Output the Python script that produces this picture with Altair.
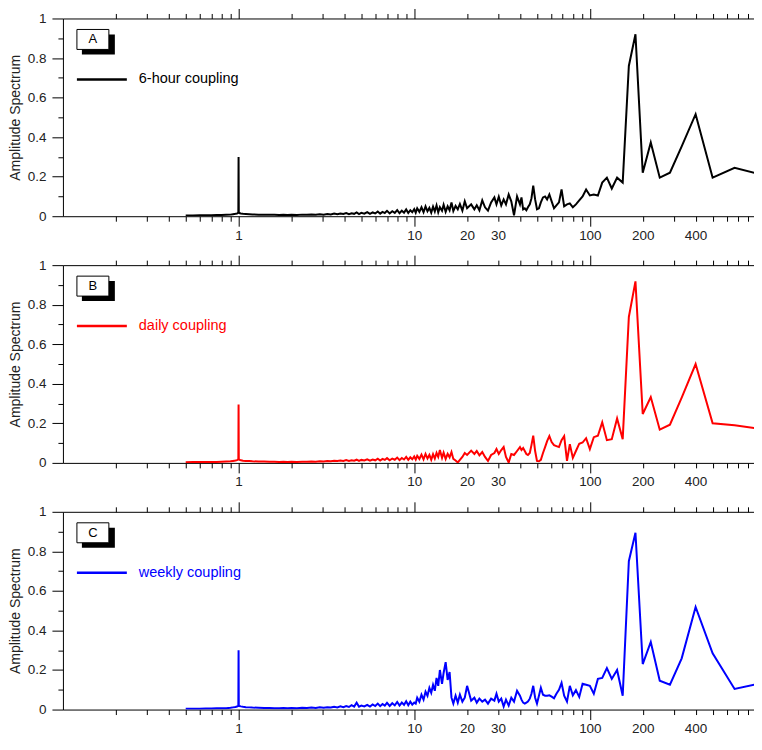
import altair as alt
import pandas as pd

# period (days) shared by the three spectra
PERIOD = [
    0.5, 0.55, 0.6, 0.65, 0.7, 0.75, 0.8, 0.85, 0.9, 0.93,
    0.96, 0.98, 0.99, 0.997, 1.0, 1.003, 1.01, 1.03, 1.06, 1.1,
    1.15, 1.2, 1.3, 1.4, 1.5, 1.6, 1.7, 1.8, 1.9, 2.0,
    2.15, 2.3, 2.45, 2.6, 2.75, 2.9, 3.05, 3.2, 3.35, 3.5,
    3.65, 3.8, 3.95, 4.1, 4.25, 4.4, 4.55, 4.7, 4.85, 5.0,
    5.2, 5.4, 5.6, 5.8, 6.0, 6.2, 6.4, 6.6, 6.8, 7.0,
    7.25, 7.5, 7.75, 8.0, 8.25, 8.5, 8.75, 9.0, 9.25, 9.5,
    9.75, 10.0, 10.2, 10.4, 10.7, 11.0, 11.3, 11.6, 11.9, 12.2,
    12.5, 12.8, 13.1, 13.4, 13.7, 14.0, 14.4, 14.7, 15.1, 15.5,
    15.9, 16.3, 16.7, 17.2, 17.7, 18.2, 18.8, 19.4, 20.0, 21.1,
    22.0, 22.7, 23.5, 24.4, 25.3, 26.3, 27.4, 28.6, 29.4, 30.3,
    31.3, 32.3, 33.3, 34.5, 35.7, 37.0, 38.5, 40.0, 40.8, 41.7,
    42.6, 43.5, 44.4, 45.5, 46.5, 47.6, 48.8, 50.0, 51.3, 52.6,
    54.1, 55.6, 57.1, 58.8, 60.6, 62.5, 64.5, 66.7, 69.0, 71.4,
    74.1, 76.9, 80.0, 83.3, 87.0, 90.9, 95.2, 100.0, 105.3, 111.1,
    117.6, 125.0, 133.3, 142.9, 153.8, 166.7, 181.8, 200.0, 222.2, 250.0,
    285.7, 333.3, 400.0, 500.0, 666.7, 1000.0,
]

AMP_6H = [
    0.004, 0.004, 0.005, 0.005, 0.005, 0.006, 0.006, 0.007, 0.008, 0.010,
    0.012, 0.014, 0.016, 0.020, 0.300, 0.020, 0.016, 0.014, 0.012, 0.011,
    0.010, 0.009, 0.008, 0.008, 0.007, 0.007, 0.006, 0.007, 0.006, 0.007,
    0.006, 0.008, 0.007, 0.009, 0.007, 0.010, 0.008, 0.011, 0.009, 0.013,
    0.010, 0.014, 0.011, 0.016, 0.010, 0.015, 0.012, 0.019, 0.011, 0.017,
    0.013, 0.021, 0.012, 0.019, 0.014, 0.024, 0.013, 0.022, 0.016, 0.027,
    0.014, 0.025, 0.017, 0.031, 0.015, 0.028, 0.018, 0.034, 0.016, 0.030,
    0.020, 0.036, 0.018, 0.040, 0.022, 0.045, 0.020, 0.050, 0.025, 0.042,
    0.018, 0.048, 0.024, 0.055, 0.020, 0.046, 0.028, 0.058, 0.022, 0.050,
    0.030, 0.070, 0.026, 0.052, 0.035, 0.062, 0.028, 0.075, 0.040, 0.060,
    0.035, 0.055, 0.030, 0.080, 0.045, 0.028, 0.070, 0.095, 0.060, 0.098,
    0.055, 0.085, 0.060, 0.110, 0.075, 0.005, 0.100, 0.060, 0.095, 0.035,
    0.040, 0.030, 0.045, 0.060, 0.090, 0.155, 0.085, 0.035, 0.040, 0.070,
    0.095, 0.100, 0.085, 0.110, 0.075, 0.040, 0.055, 0.070, 0.135, 0.050,
    0.060, 0.065, 0.045, 0.060, 0.080, 0.100, 0.135, 0.105, 0.110, 0.105,
    0.170, 0.195, 0.140, 0.195, 0.170, 0.760, 0.920, 0.220, 0.373, 0.195,
    0.220, 0.353, 0.516, 0.195, 0.245, 0.205,
]

AMP_DAILY = [
    0.003, 0.004, 0.004, 0.005, 0.005, 0.005, 0.006, 0.007, 0.008, 0.010,
    0.012, 0.014, 0.016, 0.020, 0.295, 0.020, 0.016, 0.013, 0.011, 0.010,
    0.009, 0.008, 0.007, 0.007, 0.006, 0.006, 0.005, 0.006, 0.005, 0.006,
    0.005, 0.006, 0.006, 0.007, 0.006, 0.008, 0.007, 0.009, 0.008, 0.011,
    0.009, 0.012, 0.010, 0.014, 0.010, 0.013, 0.011, 0.016, 0.010, 0.015,
    0.012, 0.018, 0.011, 0.017, 0.013, 0.021, 0.012, 0.020, 0.015, 0.024,
    0.013, 0.022, 0.016, 0.027, 0.014, 0.025, 0.017, 0.030, 0.015, 0.028,
    0.018, 0.032, 0.017, 0.036, 0.020, 0.042, 0.018, 0.045, 0.022, 0.040,
    0.016, 0.044, 0.022, 0.050, 0.030, 0.065, 0.025, 0.052, 0.020, 0.046,
    0.028, 0.055, 0.020, 0.012, 0.002, 0.015, 0.030, 0.050, 0.040, 0.062,
    0.045, 0.060, 0.038, 0.055, 0.030, 0.010, 0.040, 0.050, 0.070, 0.045,
    0.065, 0.080, 0.030, 0.002, 0.045, 0.040, 0.060, 0.080, 0.065, 0.075,
    0.060, 0.045, 0.040, 0.050, 0.090, 0.138, 0.060, 0.010, 0.008, 0.015,
    0.050, 0.080, 0.110, 0.135, 0.105, 0.090, 0.085, 0.080, 0.115, 0.135,
    0.010, 0.095, 0.025, 0.060, 0.097, 0.103, 0.125, 0.070, 0.130, 0.137,
    0.205, 0.115, 0.120, 0.225, 0.120, 0.738, 0.918, 0.247, 0.333, 0.168,
    0.193, 0.330, 0.500, 0.200, 0.190, 0.168,
]

AMP_WEEKLY = [
    0.004, 0.004, 0.004, 0.005, 0.005, 0.006, 0.006, 0.007, 0.009, 0.011,
    0.013, 0.015, 0.017, 0.020, 0.300, 0.020, 0.018, 0.016, 0.014, 0.012,
    0.011, 0.010, 0.009, 0.008, 0.008, 0.007, 0.007, 0.008, 0.007, 0.008,
    0.007, 0.009, 0.008, 0.010, 0.008, 0.011, 0.009, 0.012, 0.010, 0.014,
    0.011, 0.016, 0.012, 0.018, 0.013, 0.022, 0.015, 0.035, 0.014, 0.020,
    0.016, 0.024, 0.015, 0.026, 0.018, 0.030, 0.017, 0.028, 0.020, 0.034,
    0.018, 0.032, 0.021, 0.038, 0.020, 0.035, 0.024, 0.042, 0.022, 0.040,
    0.025, 0.035, 0.030, 0.060, 0.040, 0.075, 0.050, 0.090, 0.070, 0.110,
    0.085, 0.125, 0.095, 0.160, 0.120, 0.200, 0.130, 0.185, 0.240, 0.150,
    0.190, 0.060, 0.030, 0.070, 0.035, 0.075, 0.040, 0.060, 0.120, 0.045,
    0.060, 0.035, 0.055, 0.040, 0.050, 0.030, 0.055, 0.045, 0.080, 0.040,
    0.055, 0.015, 0.050, 0.020, 0.060, 0.040, 0.095, 0.070, 0.050, 0.035,
    0.030, 0.035, 0.040, 0.055, 0.080, 0.120, 0.060, 0.030, 0.070, 0.110,
    0.075, 0.070, 0.070, 0.072, 0.065, 0.057, 0.080, 0.100, 0.135, 0.070,
    0.040, 0.120, 0.072, 0.098, 0.064, 0.130, 0.125, 0.120, 0.080, 0.155,
    0.160, 0.210, 0.155, 0.200, 0.070, 0.750, 0.894, 0.230, 0.342, 0.146,
    0.126, 0.259, 0.519, 0.284, 0.104, 0.138,
]

LETTERS = ["A", "B", "C"]
NAMES = ["6-hour coupling", "daily coupling", "weekly coupling"]
COLORS = ["#000000", "#ff0000", "#0000ff"]

X_TICKS = [0.2, 0.3, 0.4, 0.5, 0.6, 0.7, 0.8, 0.9,
           1, 2, 3, 4, 5, 6, 7, 8, 9,
           10, 20, 30, 40, 50, 60, 70, 80, 90,
           100, 200, 300, 400, 500, 600, 700, 800]
X_LABELS = [1, 10, 20, 30, 100, 200, 400]
X_MAJOR = [1, 10, 100]
Y_TICKS = [0, 0.1, 0.2, 0.3, 0.4, 0.5, 0.6, 0.7, 0.8, 0.9, 1]

FONT = "Liberation Sans"

x_is_major = "indexof(%s, datum.value) >= 0" % X_MAJOR
x_label_expr = "indexof(%s, datum.value) >= 0 ? '' + datum.value : ''" % X_LABELS
x_tick = {"condition": {"test": x_is_major, "value": 10}, "value": 5}
# labels sit after each tick, so pad the short ones more to keep one baseline
x_pad = {"condition": {"test": x_is_major, "value": 2}, "value": 7}
y_label_expr = "round(datum.value * 10) % 2 == 0 ? '' + datum.value : ''"
y_tick = {"condition": {"test": "round(datum.value * 10) % 2 == 0", "value": 11}, "value": 5}


def panel(letter, name, color, amps):
    df = pd.DataFrame({"period": PERIOD, "amp": amps})
    xscale = alt.Scale(type="log", domain=[0.1, 860], nice=False)
    yscale = alt.Scale(domain=[0, 1], nice=False)
    y_enc = alt.Y("amp:Q", scale=yscale, title="Amplitude Spectrum",
                  axis=alt.Axis(values=Y_TICKS, labelExpr=y_label_expr, tickSize=y_tick,
                                labelPadding=6, titlePadding=5, grid=False))

    line = alt.Chart(df).mark_line(color=color, strokeWidth=2, clip=True).encode(
        x=alt.X("period:Q", scale=xscale, title=None,
                axis=alt.Axis(orient="bottom", values=X_TICKS, labelExpr=x_label_expr,
                              tickSize=x_tick, labelPadding=x_pad, labelOverlap=False,
                              labelFlush=False, grid=False)),
        y=y_enc,
    )
    # invisible copy, only here to carry the top axis
    top = alt.Chart(df).mark_line(strokeOpacity=0, clip=True).encode(
        x=alt.X("period:Q", scale=xscale, title=None,
                axis=alt.Axis(orient="top", values=X_TICKS, labels=False,
                              tickSize=x_tick, grid=False)),
        y=y_enc,
    )

    one = pd.DataFrame({"t": [letter]})
    shadow = alt.Chart(one).mark_rect(color="black").encode(
        x=alt.value(19), x2=alt.value(52), y=alt.value(16), y2=alt.value(36))
    box = alt.Chart(one).mark_rect(fill="white", stroke="black", strokeWidth=1).encode(
        x=alt.value(14), x2=alt.value(46), y=alt.value(11), y2=alt.value(31))
    tag = alt.Chart(one).mark_text(font=FONT, fontSize=13, color="black", baseline="middle").encode(
        x=alt.value(30), y=alt.value(21), text="t:N")
    key = alt.Chart(one).mark_rule(color=color, strokeWidth=2.5).encode(
        x=alt.value(14), x2=alt.value(64), y=alt.value(61))
    key_txt = alt.Chart(one).mark_text(font=FONT, fontSize=14.5, color=color,
                                       align="left", baseline="middle").encode(
        x=alt.value(76), y=alt.value(61), text=alt.value(name))

    return alt.layer(line, top, shadow, box, tag, key, key_txt).properties(width=692, height=198)


panels = [panel(l, n, c, a) for l, n, c, a in
          zip(LETTERS, NAMES, COLORS, [AMP_6H, AMP_DAILY, AMP_WEEKLY])]

chart = alt.vconcat(*panels, spacing=12).properties(
    padding={"left": 0, "top": -1, "right": 0, "bottom": 0}
).configure_view(stroke=None).configure_axis(
    labelFont=FONT, labelFontSize=13.5, labelColor="#222222",
    titleFont=FONT, titleFontSize=14, titleFontWeight="normal", titleColor="#222222",
    domainColor="black", tickColor="black", domainWidth=1, tickWidth=1,
)

chart.save("out.html", embed_options={"renderer": "svg", "actions": False})
